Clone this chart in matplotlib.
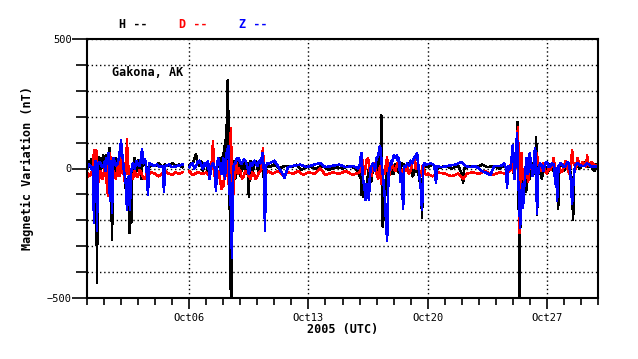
import numpy as np
import pandas as pd
import matplotlib
matplotlib.use("Agg")
import matplotlib.pyplot as plt
import matplotlib.dates as mdates

start = pd.Timestamp("2005-09-30")
end = pd.Timestamp("2005-10-30")
nan = np.nan

# (days since Sep 30 00:00 UTC, nT)
h_points = [
    (0, 10), (0.05, 25), (0.1, 5), (0.15, 30), (0.2, 15), (0.25, 35), (0.3, 10), (0.35, 25),
    (0.4, -10), (0.45, 40), (0.5, 30), (0.55, -100), (0.59, -440), (0.62, -50), (0.66, 20),
    (0.7, 45), (0.75, -10), (0.8, 40), (0.85, 0), (0.9, 25), (0.95, 50), (1.0, 30), (1.05, -30),
    (1.1, 50), (1.15, 10), (1.2, -20), (1.25, 30), (1.3, 80), (1.35, 75), (1.42, -60),
    (1.47, -275), (1.52, -30), (1.56, 40), (1.6, 20), (1.65, -20), (1.7, 40), (1.75, 10),
    (1.8, 0), (1.85, 35), (1.9, 20), (1.95, -20), (2.0, 10), (2.05, 40), (2.1, 30), (2.15, -10),
    (2.2, -20), (2.25, -60), (2.3, -90), (2.35, -40), (2.4, -160), (2.45, -120), (2.5, -250),
    (2.55, -80), (2.6, -210), (2.65, -30), (2.7, 10), (2.75, -20), (2.8, 40), (2.85, 20),
    (2.9, -10), (2.95, 25), (3.0, 30), (3.05, 0), (3.1, 10), (3.15, 30), (3.2, -40), (3.25, 20),
    (3.3, 10), (3.35, 30), (3.4, 20), (3.5, 5), (3.6, 0), (3.8, 15), (4.0, 10), (4.2, 20),
    (4.4, 5), (4.6, 15), (4.8, 10), (5.0, 20), (5.2, 10), (5.4, 15), (5.6, 5), (5.8, nan),
    (6.0, 10), (6.1, 20), (6.2, 15), (6.3, 35), (6.4, 55), (6.5, 20), (6.6, 10), (6.7, 30),
    (6.8, -10), (6.9, 10), (7.0, 15), (7.1, -10), (7.2, -20), (7.3, 10), (7.4, 20), (7.5, -30),
    (7.6, -10), (7.7, 20), (7.8, 40), (7.9, 10), (8.0, 60), (8.05, 30), (8.1, 110), (8.15, 70),
    (8.2, 150), (8.25, 340), (8.3, 200), (8.33, -50), (8.4, -200), (8.46, -600), (8.5, -100),
    (8.55, 10), (8.6, 30), (8.65, -20), (8.7, -40), (8.75, 10), (8.8, 20), (8.85, -10),
    (8.9, 30), (9.0, -30), (9.05, 10), (9.1, -10), (9.2, 30), (9.3, 0), (9.4, -20), (9.45, 20),
    (9.5, -110), (9.55, 10), (9.6, 30), (9.7, -20), (9.8, 10), (9.9, 30), (10.0, 0),
    (10.1, -20), (10.2, 20), (10.3, 40), (10.35, 0), (10.4, -60), (10.45, -20), (10.5, 10),
    (10.7, 5), (11.0, 15), (11.3, 0), (11.6, 10), (12.0, 5), (12.3, 15), (12.6, -5), (13.0, 10),
    (13.4, 0), (13.8, 10), (14.2, -5), (14.6, 5), (15.0, 0), (15.4, 10), (15.8, 0), (16.0, -30),
    (16.05, 10), (16.1, -100), (16.15, -40), (16.2, -110), (16.25, -80), (16.3, -60),
    (16.4, -90), (16.5, -20), (16.6, 10), (16.7, -50), (16.8, 20), (16.9, 10), (17.0, -20),
    (17.1, 40), (17.15, 10), (17.2, 80), (17.25, 50), (17.28, 205), (17.32, -50),
    (17.36, -225), (17.4, -140), (17.45, -200), (17.5, -60), (17.55, -100), (17.6, -10),
    (17.7, 20), (17.8, 10), (17.9, -20), (18.0, -20), (18.1, 15), (18.2, 10), (18.3, -15),
    (18.4, -5), (18.5, 20), (18.6, 15), (18.7, -10), (18.8, 0), (18.9, 20), (19.0, 10),
    (19.1, -30), (19.2, -20), (19.3, 10), (19.4, -10), (19.5, -30), (19.55, -60), (19.6, -40),
    (19.67, -190), (19.72, -20), (19.8, 10), (20.0, 5), (20.3, 15), (20.6, 0), (21.0, 10),
    (21.4, 0), (21.8, 10), (22.0, -20), (22.08, -55), (22.15, 0), (22.5, 10), (22.9, 5),
    (23.2, 15), (23.5, 5), (23.9, 10), (24.2, 0), (24.5, 10), (24.8, -10), (24.9, 20),
    (25.0, 30), (25.05, -20), (25.1, 40), (25.2, 60), (25.28, 180), (25.34, -100),
    (25.38, -365), (25.41, -600), (25.44, -150), (25.47, -80), (25.5, -60), (25.55, -20),
    (25.6, -120), (25.65, -60), (25.7, -30), (25.75, -90), (25.8, -80), (25.85, -20),
    (25.9, 10), (25.95, -30), (26.0, -40), (26.1, 10), (26.2, 20), (26.3, -20), (26.37, 120),
    (26.42, -180), (26.5, 0), (26.55, -20), (26.6, 20), (26.7, -40), (26.8, 0), (26.9, 10),
    (27.0, -20), (27.1, -10), (27.2, 15), (27.3, 10), (27.4, -10), (27.5, -40), (27.6, -60),
    (27.66, -155), (27.72, -10), (27.8, 20), (27.9, 15), (28.0, -10), (28.1, 0), (28.2, 20),
    (28.3, 10), (28.4, -20), (28.45, -40), (28.54, -197), (28.6, -10), (28.7, 20), (28.8, 15),
    (28.9, 0), (29.0, 5), (29.15, 25), (29.3, 20), (29.45, 5), (29.6, 10), (29.7, -5),
    (29.8, -10), (29.9, 15), (30.0, 10),
]

d_points = [
    (0, -15), (0.1, -30), (0.2, -25), (0.3, -10), (0.35, -5), (0.41, 72), (0.45, -20),
    (0.5, -40), (0.55, 70), (0.6, -30), (0.65, -10), (0.7, -50), (0.75, -20), (0.8, -10),
    (0.85, -30), (0.9, -40), (0.95, -20), (1.0, -20), (1.05, 10), (1.1, -30), (1.15, -50),
    (1.23, -105), (1.28, 20), (1.35, 60), (1.42, -10), (1.45, 30), (1.5, -40), (1.55, -10),
    (1.6, -20), (1.7, -40), (1.8, 10), (1.85, -20), (1.9, -30), (1.95, 20), (2.0, 40),
    (2.05, -10), (2.1, -20), (2.15, 20), (2.2, -50), (2.25, -20), (2.3, 0), (2.35, 115),
    (2.4, -20), (2.45, 10), (2.5, -40), (2.55, -10), (2.6, -20), (2.7, -40), (2.8, -10),
    (2.9, -30), (3.0, -30), (3.1, -5), (3.2, -20), (3.3, -35), (3.4, -40), (3.5, -20),
    (3.6, -25), (3.8, -15), (4.0, -20), (4.2, -30), (4.4, -20), (4.6, -10), (4.8, -20),
    (5.0, -25), (5.2, -15), (5.4, -20), (5.6, -15), (5.8, nan), (6.0, -10), (6.2, -25),
    (6.5, -15), (6.8, -20), (7.0, -15), (7.1, -25), (7.2, -30), (7.3, 0), (7.4, 105),
    (7.45, -10), (7.5, -30), (7.6, -20), (7.7, -10), (7.8, -40), (7.85, -60), (7.9, -80),
    (7.95, -50), (8.0, -70), (8.05, -30), (8.1, -40), (8.15, 10), (8.2, 30), (8.25, -20),
    (8.3, -60), (8.38, 40), (8.45, 155), (8.5, -40), (8.55, -70), (8.6, -100), (8.65, -30),
    (8.7, -20), (8.75, 10), (8.8, 20), (8.85, -20), (8.9, 0), (9.0, -10), (9.1, -40),
    (9.2, -30), (9.3, -10), (9.4, -10), (9.5, -30), (9.6, -40), (9.7, -15), (9.8, -20),
    (9.9, -40), (10.0, -30), (10.1, -15), (10.2, -10), (10.33, 78), (10.4, -40), (10.5, -20),
    (10.6, -10), (10.9, -20), (11.2, -10), (11.5, -25), (11.8, -15), (12.1, -20), (12.4, -10),
    (12.7, -25), (13.0, -15), (13.4, -20), (13.7, 0), (14.0, -25), (14.4, -15), (14.8, -20),
    (15.2, -10), (15.6, -25), (16.0, -15), (16.1, 10), (16.15, 40), (16.2, 0), (16.3, -20),
    (16.4, 30), (16.5, 40), (16.6, -10), (16.7, -30), (16.8, 10), (16.9, 20), (17.0, -20),
    (17.1, -40), (17.2, 10), (17.3, -60), (17.4, -10), (17.5, -20), (17.55, 20), (17.62, 42),
    (17.7, -40), (17.8, -10), (17.9, 20), (18.0, 0), (18.1, -10), (18.2, 15), (18.3, 30),
    (18.4, -10), (18.5, -30), (18.6, 0), (18.7, -10), (18.8, 10), (18.9, -20), (19.0, -10),
    (19.1, 20), (19.2, 40), (19.3, 0), (19.4, 20), (19.5, -10), (19.6, -30), (19.7, 10),
    (19.8, -10), (19.9, -25), (20.0, -20), (20.3, -30), (20.6, -15), (21.0, -20), (21.4, -30),
    (21.8, -20), (22.1, -40), (22.3, -20), (22.6, -15), (23.0, -20), (23.4, -10), (23.8, -25),
    (24.2, -15), (24.6, -20), (24.8, -10), (24.9, 20), (25.0, -10), (25.1, -20), (25.2, 30),
    (25.3, 160), (25.36, -40), (25.4, -250), (25.45, 20), (25.5, 60), (25.55, 0), (25.6, -40),
    (25.65, -10), (25.7, -60), (25.75, -20), (25.8, 20), (25.85, -10), (25.9, -50),
    (25.95, -10), (26.0, 30), (26.1, 0), (26.2, -20), (26.3, 10), (26.4, 60), (26.5, 20),
    (26.6, -10), (26.7, 0), (26.8, 20), (26.9, -10), (27.0, -20), (27.1, 0), (27.2, -5),
    (27.3, 10), (27.4, 40), (27.5, -20), (27.6, 0), (27.7, 10), (27.8, -15), (27.9, -10),
    (28.0, 10), (28.1, 30), (28.2, 0), (28.3, -20), (28.4, 10), (28.48, 70), (28.55, 20),
    (28.6, 20), (28.7, 0), (28.8, 40), (28.9, 15), (29.0, 10), (29.1, 25), (29.2, 20),
    (29.3, 5), (29.36, 50), (29.45, 15), (29.5, 10), (29.6, 25), (29.7, 20), (29.85, 10),
    (30.0, 15),
]

z_points = [
    (0, 0), (0.1, 15), (0.2, 10), (0.3, -5), (0.35, 5), (0.41, -210), (0.45, 0), (0.5, 30),
    (0.55, 20), (0.59, -240), (0.63, 10), (0.7, 25), (0.8, 20), (0.9, 5), (1.0, 10),
    (1.05, 30), (1.1, -10), (1.15, 40), (1.2, 20), (1.25, 60), (1.3, -20), (1.35, -125),
    (1.4, 30), (1.47, -170), (1.52, 0), (1.56, 40), (1.6, 30), (1.7, 10), (1.8, 20), (1.9, 50),
    (2.0, 108), (2.05, 60), (2.1, 40), (2.15, 0), (2.2, -20), (2.28, -60), (2.35, -160),
    (2.4, -90), (2.45, -30), (2.52, -160), (2.58, -20), (2.65, 10), (2.7, 20), (2.8, 0),
    (2.9, 30), (3.0, 15), (3.1, 10), (3.15, 30), (3.23, 75), (3.3, 20), (3.4, 35), (3.45, 20),
    (3.52, -20), (3.58, -100), (3.65, 20), (3.8, 15), (3.9, 10), (4.1, 15), (4.3, 5),
    (4.45, 10), (4.52, -92), (4.58, 10), (4.8, 15), (5.0, 5), (5.3, 10), (5.6, 15), (5.8, nan),
    (6.0, 5), (6.1, 15), (6.2, 20), (6.3, 0), (6.4, 10), (6.5, 25), (6.6, 30), (6.7, 15),
    (6.8, 0), (6.9, 20), (7.0, 10), (7.1, 30), (7.2, -40), (7.3, 10), (7.4, 20), (7.5, 0),
    (7.57, -85), (7.65, 20), (7.7, 40), (7.8, 10), (7.9, -20), (8.0, 40), (8.05, 0),
    (8.1, -40), (8.15, 20), (8.2, 60), (8.3, 88), (8.35, -20), (8.38, -100), (8.45, -150),
    (8.51, -345), (8.56, -40), (8.6, 10), (8.7, 20), (8.8, 40), (8.9, 40), (9.0, 20),
    (9.1, 20), (9.2, 35), (9.3, 30), (9.4, 10), (9.5, -20), (9.6, 20), (9.7, 10), (9.8, 30),
    (9.9, 20), (10.0, 10), (10.1, 30), (10.2, 20), (10.3, 60), (10.38, 0), (10.45, -240),
    (10.5, 10), (10.6, 20), (10.7, 20), (11.0, 30), (11.2, 10), (11.6, -35), (11.8, 5),
    (12.1, 10), (12.5, 15), (12.9, 5), (13.3, 15), (13.7, 20), (14.0, 5), (14.4, 10),
    (14.8, 15), (15.2, 5), (15.6, 10), (15.9, 0), (16.0, 10), (16.1, 60), (16.15, 20),
    (16.2, -40), (16.3, -80), (16.35, -120), (16.4, -60), (16.5, -100), (16.55, -120),
    (16.6, -40), (16.65, 0), (16.7, 10), (16.8, 20), (16.9, -10), (17.0, 40), (17.1, 50),
    (17.2, 88), (17.25, 60), (17.3, 20), (17.4, -50), (17.5, -120), (17.55, -200),
    (17.62, -280), (17.66, -150), (17.7, -20), (17.8, 10), (17.85, 30), (17.9, 20), (18.0, 50),
    (18.1, 40), (18.2, 50), (18.25, 30), (18.32, 40), (18.4, -50), (18.48, -20),
    (18.56, -155), (18.62, 10), (18.7, 5), (18.8, 20), (18.9, 10), (19.0, 30), (19.1, 20),
    (19.2, 40), (19.3, 50), (19.38, 58), (19.45, 10), (19.5, -20), (19.6, -80), (19.67, -160),
    (19.74, 10), (19.8, 20), (19.9, 15), (20.2, 20), (20.4, 10), (20.49, -55), (20.55, 10),
    (20.8, 5), (21.2, 10), (21.6, 15), (22.0, 25), (22.2, 10), (22.5, 5), (22.8, 10),
    (23.2, -10), (23.7, -25), (23.9, 10), (24.3, 10), (24.5, 20), (24.6, 0), (24.66, -73),
    (24.75, 10), (24.85, 0), (24.9, 20), (25.0, 90), (25.05, 30), (25.1, -40), (25.18, 60),
    (25.25, 135), (25.3, -30), (25.36, -100), (25.43, -228), (25.47, -120), (25.5, -100),
    (25.55, -60), (25.6, -150), (25.65, -80), (25.7, -50), (25.75, 0), (25.8, 40),
    (25.85, 10), (25.9, -20), (25.95, 30), (26.0, 60), (26.05, 20), (26.1, 10), (26.15, -30),
    (26.2, -20), (26.25, 30), (26.3, 80), (26.35, 40), (26.42, -175), (26.5, 0), (26.6, 20),
    (26.7, 10), (26.8, -10), (26.9, 20), (27.0, 25), (27.1, 5), (27.2, 10), (27.3, 20),
    (27.4, 15), (27.5, -60), (27.55, 0), (27.6, -125), (27.68, 10), (27.8, 20), (27.9, 15),
    (28.0, 5), (28.1, 10), (28.2, 25), (28.3, 20), (28.4, -40), (28.48, -135), (28.55, -60),
    (28.6, -20), (28.65, 10), (28.8, 20), (28.9, 15), (29.0, 10), (29.2, 10), (29.35, 20),
    (29.5, 15), (29.65, 5), (29.8, 10), (30.0, 5),
]

date_ticks = ["2005-10-06", "2005-10-13", "2005-10-20", "2005-10-27"]


def series(points):
    days, vals = zip(*points)
    return start + pd.to_timedelta(list(days), unit="D"), list(vals)


mono = "DejaVu Sans Mono"
fig = plt.figure(figsize=(6.38, 3.59), dpi=100)
ax = fig.add_axes([87 / 638, 61 / 359, 511 / 638, 259 / 359])

for pts, col in [(h_points, "black"), (d_points, "red"), (z_points, "blue")]:
    t, v = series(pts)
    ax.plot(t, v, color=col, lw=1.1, antialiased=False)

ax.set_xlim(start, end)
ax.set_ylim(-500, 500)

ax.set_xticks(pd.to_datetime(date_ticks))
ax.xaxis.set_major_formatter(mdates.DateFormatter("%b%d"))
ax.xaxis.set_minor_locator(mdates.DayLocator())
ax.set_yticks([-500, 0, 500])
ax.set_yticks(np.arange(-400, 500, 100), minor=True)

ax.grid(True, which="major", axis="x", color="black", lw=1, ls=(0, (1, 2)))
ax.grid(True, which="both", axis="y", color="black", lw=1, ls=(0, (1, 2)))

ax.tick_params(axis="x", which="major", length=8, width=1.2, direction="out", labelsize=7.5, pad=3)
ax.tick_params(axis="x", which="minor", length=5, width=1.2, direction="out")
ax.tick_params(axis="y", which="major", length=11, width=1.2, direction="out", labelsize=7.5, pad=0)
ax.tick_params(axis="y", which="minor", length=8, width=1.2, direction="out")
for lab in ax.get_xticklabels() + ax.get_yticklabels():
    lab.set_family(mono)
for s in ax.spines.values():
    s.set_linewidth(1.5)

ax.set_xlabel("2005 (UTC)", family=mono, fontweight="bold", fontsize=8.5, labelpad=0)
ax.set_ylabel("Magnetic Variation (nT)", family=mono, fontweight="bold", fontsize=8.5, labelpad=9)

fig.text(112 / 638, 1 - 72 / 359, "Gakona, AK", family=mono, fontweight="bold", fontsize=8.5,
         va="center", ha="left")

for txt, col, x in [("H --", "black", 119), ("D --", "red", 179), ("Z --", "blue", 239)]:
    fig.text(x / 638, 1 - 24 / 359, txt, color=col, family=mono, fontweight="bold",
             fontsize=8.5, va="center", ha="left")

fig.savefig("out.png", dpi=100)
